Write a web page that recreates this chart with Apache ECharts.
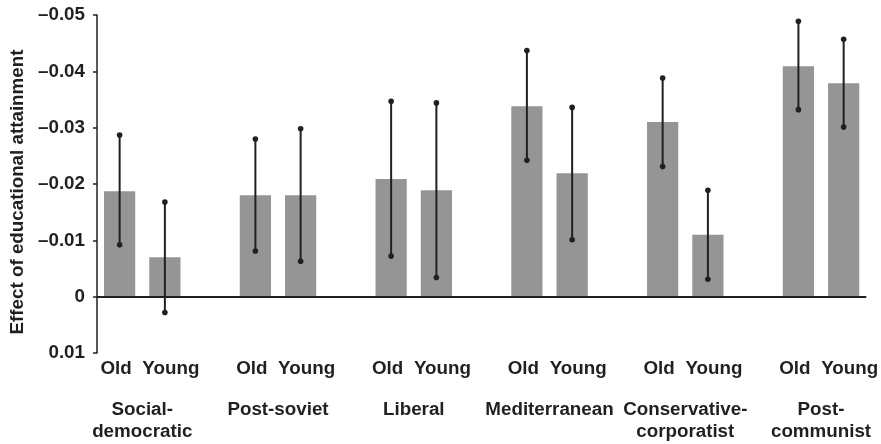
<!DOCTYPE html>
<html><head><meta charset="utf-8">
<script src="https://cdn.jsdelivr.net/npm/echarts@6/dist/echarts.min.js"></script>
<style>html,body{margin:0;padding:0;background:#fff}#c{width:881px;height:444px}</style>
</head><body><div id="c"></div>
<script>
// Regime groups and age cohorts
const groups = ['Social-\ndemocratic', 'Post-soviet', 'Liberal', 'Mediterranean', 'Conservative-\ncorporatist', 'Post-\ncommunist'];
const ages = ['Old', 'Young'];
// Estimates (Old, Young per group)
const oldEst   = [-0.0187, -0.0180, -0.0209, -0.0338, -0.0310, -0.0409];
const youngEst = [-0.0070, -0.0180, -0.0189, -0.0219, -0.0110, -0.0379];
// Error bar ends
const oldLow   = [-0.0092, -0.0081, -0.0072, -0.0242, -0.0231, -0.0332];
const oldHigh  = [-0.0287, -0.0280, -0.0347, -0.0437, -0.0388, -0.0489];
const youngLow = [0.0028, -0.0063, -0.0034, -0.0101, -0.0031, -0.0301];
const youngHigh= [-0.0168, -0.0298, -0.0344, -0.0336, -0.0189, -0.0457];
// Y axis
const yMin = -0.05, yMax = 0.01, yStep = 0.01;
const yName = 'Effect of educational attainment';

const FONT = "'Liberation Sans', Arial, Helvetica, sans-serif";
const INK = '#231f20';
const FS = 18.8;

// Build category slots: Old, Young, spacer ...
const cats = [], barData = [], errData = [];
groups.forEach((g, i) => {
  const base = cats.length;
  cats.push(ages[0] + '|' + i); cats.push(ages[1] + '|' + i);
  barData.push(oldEst[i]); barData.push(youngEst[i]);
  errData.push([base, oldLow[i], oldHigh[i]]);
  errData.push([base + 1, youngLow[i], youngHigh[i]]);
  if (i < groups.length - 1) { cats.push(' |' + i); barData.push(null); }
});
// Group label axis: points at the boundary between Old and Young
const groupCats = [];
for (let k = 0; k <= cats.length; k++) groupCats.push('g' + k);
const groupLabelAt = {};
groups.forEach((g, i) => { groupLabelAt['g' + (1 + 3 * i)] = g; });

const chart = echarts.init(document.getElementById('c'));
chart.setOption({
  animation: false,
  textStyle: { fontFamily: FONT },
  grid: { left: 93, right: 13, top: 15, bottom: 91, containLabel: false },
  xAxis: [{
    type: 'category', data: cats, position: 'bottom',
    axisLine: { show: false }, axisTick: { show: false },
    axisLabel: { interval: 0, margin: 6, fontSize: FS, fontWeight: 'bold', color: INK, fontFamily: FONT,
      formatter: v => { const a = v.split('|')[0]; return a === 'Old' ? '{o|Old}' : a === 'Young' ? '{y|Young}' : ''; },
      rich: {
        o: { fontSize: FS, fontWeight: 'bold', color: INK, fontFamily: FONT, padding: [0, 7, 0, 0] },
        y: { fontSize: FS, fontWeight: 'bold', color: INK, fontFamily: FONT, padding: [0, 0, 0, 12] }
      } }
  }, {
    type: 'category', data: groupCats, position: 'bottom', boundaryGap: false,
    axisLine: { show: false }, axisTick: { show: false }, splitLine: { show: false },
    axisLabel: { interval: 0, margin: 46, fontSize: FS, fontWeight: 'bold', color: INK, fontFamily: FONT,
      lineHeight: 22, align: 'center', formatter: v => groupLabelAt[v] || '' }
  }],
  yAxis: {
    type: 'value', inverse: true, min: yMin, max: yMax, interval: yStep,
    name: yName, nameLocation: 'middle', nameGap: 70,
    nameTextStyle: { fontSize: FS, fontWeight: 'bold', color: INK, fontFamily: FONT, padding: [0, 16, 0, 0] },
    axisLine: { show: true, lineStyle: { color: INK, width: 1.5 } },
    axisTick: { show: true, length: 4, lineStyle: { color: INK, width: 1.5 } },
    splitLine: { show: false },
    axisLabel: { margin: 12, fontSize: FS, fontWeight: 'bold', color: INK, fontFamily: FONT,
      formatter: v => { const r = Math.round(v * 100) / 100; if (r === 0) return '0'; return (r < 0 ? '\u2013' : '') + Math.abs(r).toFixed(2); } }
  },
  series: [{
    type: 'bar', data: barData, barWidth: '69%', xAxisIndex: 0,
    itemStyle: { color: '#959595' },
    markLine: { silent: true, symbol: 'none', label: { show: false },
      lineStyle: { color: INK, width: 2, type: 'solid' }, data: [{ yAxis: 0 }] }
  }, {
    type: 'custom', xAxisIndex: 0, z: 5, data: errData,
    encode: { x: 0, y: [1, 2] },
    renderItem: (params, api) => {
      const x = api.value(0);
      const p1 = api.coord([x, api.value(1)]);
      const p2 = api.coord([x, api.value(2)]);
      return { type: 'group', children: [
        { type: 'line', shape: { x1: p1[0], y1: p1[1], x2: p2[0], y2: p2[1] }, style: { stroke: INK, lineWidth: 2 } },
        { type: 'circle', shape: { cx: p1[0], cy: p1[1], r: 2.8 }, style: { fill: INK } },
        { type: 'circle', shape: { cx: p2[0], cy: p2[1], r: 2.8 }, style: { fill: INK } }
      ] };
    }
  }]
});
</script></body></html>
